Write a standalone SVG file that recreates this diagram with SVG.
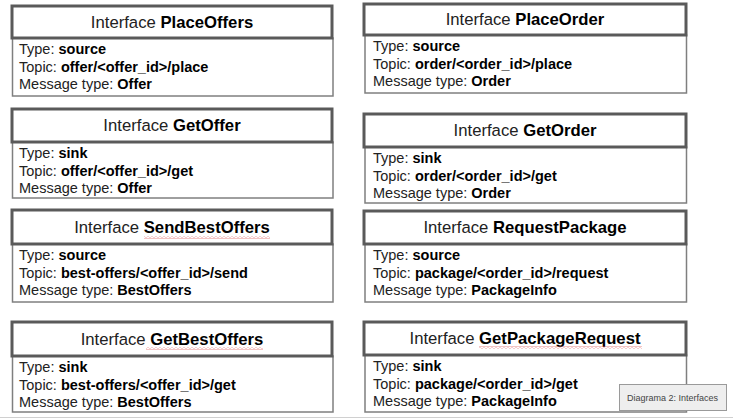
<svg xmlns="http://www.w3.org/2000/svg" width="733" height="419" viewBox="0 0 733 419">
<defs>
<style>
.hd{fill:#fff;stroke:#5a5a5a;stroke-width:3}
.bd{fill:#fff;stroke:#7f7f7f;stroke-width:1.5}
.ht{font-family:"Liberation Sans",Arial,sans-serif;font-size:16.7px;fill:#222;text-anchor:middle}
.bt{font-family:"Liberation Sans",Arial,sans-serif;font-size:14.5px;fill:#222}
.b{font-weight:bold;fill:#000}
.wv{fill:url(#wavy)}
.cap{font-family:"Liberation Sans",Arial,sans-serif;font-size:9px;fill:#444}
</style>
<pattern id="wavy" patternUnits="userSpaceOnUse" width="4" height="3">
<path d="M0,2.4 L2,0.6 L4,2.4" fill="none" stroke="#e06666" stroke-width="0.7"/>
</pattern>
</defs>
<rect width="733" height="419" fill="#fff"/>
<line x1="0" y1="417.5" x2="733" y2="417.5" stroke="#d0d0d0" stroke-width="1"/>

<g id="PlaceOffers">
<rect class="bd" x="12.5" y="38" width="320.5" height="58"/>
<rect class="hd" x="12" y="6" width="320" height="32"/>
<text class="ht" x="172" y="28">Interface <tspan class="b">PlaceOffers</tspan></text>
<text class="bt" x="19" y="54">Type: <tspan class="b">source</tspan></text>
<text class="bt" x="19" y="71.5">Topic: <tspan class="b">offer/&lt;offer_id&gt;/place</tspan></text>
<text class="bt" x="19" y="89">Message type: <tspan class="b">Offer</tspan></text>
</g>

<g id="GetOffer">
<rect class="bd" x="12.5" y="142" width="320.5" height="56"/>
<rect class="hd" x="12" y="109" width="320" height="33"/>
<text class="ht" x="172" y="131">Interface <tspan class="b">GetOffer</tspan></text>
<text class="bt" x="19" y="158">Type: <tspan class="b">sink</tspan></text>
<text class="bt" x="19" y="175.5">Topic: <tspan class="b">offer/&lt;offer_id&gt;/get</tspan></text>
<text class="bt" x="19" y="193">Message type: <tspan class="b">Offer</tspan></text>
</g>

<g id="SendBestOffers">
<rect class="bd" x="12.5" y="244" width="320.5" height="58"/>
<rect class="hd" x="12" y="210" width="320" height="34"/>
<text class="ht" x="172" y="233">Interface <tspan class="b">SendBestOffers</tspan></text>
<rect class="wv" x="144" y="236" width="126" height="3"/>
<text class="bt" x="19" y="260">Type: <tspan class="b">source</tspan></text>
<text class="bt" x="19" y="277.5">Topic: <tspan class="b">best-offers/&lt;offer_id&gt;/send</tspan></text>
<text class="bt" x="19" y="295">Message type: <tspan class="b">BestOffers</tspan></text>
</g>

<g id="GetBestOffers">
<rect class="bd" x="12.5" y="356" width="320.5" height="56"/>
<rect class="hd" x="12" y="322" width="320" height="34"/>
<text class="ht" x="172" y="345">Interface <tspan class="b">GetBestOffers</tspan></text>
<rect class="wv" x="146" y="347" width="117" height="3"/>
<text class="bt" x="19" y="372">Type: <tspan class="b">sink</tspan></text>
<text class="bt" x="19" y="389.5">Topic: <tspan class="b">best-offers/&lt;offer_id&gt;/get</tspan></text>
<text class="bt" x="19" y="407">Message type: <tspan class="b">BestOffers</tspan></text>
</g>

<g id="PlaceOrder">
<rect class="bd" x="365" y="35" width="321.5" height="58"/>
<rect class="hd" x="364" y="4" width="322" height="31"/>
<text class="ht" x="525" y="25">Interface <tspan class="b">PlaceOrder</tspan></text>
<text class="bt" x="373" y="51">Type: <tspan class="b">source</tspan></text>
<text class="bt" x="373" y="68.5">Topic: <tspan class="b">order/&lt;order_id&gt;/place</tspan></text>
<text class="bt" x="373" y="86">Message type: <tspan class="b">Order</tspan></text>
</g>

<g id="GetOrder">
<rect class="bd" x="365" y="147" width="321.5" height="56"/>
<rect class="hd" x="364" y="114" width="322" height="33"/>
<text class="ht" x="525" y="136">Interface <tspan class="b">GetOrder</tspan></text>
<text class="bt" x="373" y="163">Type: <tspan class="b">sink</tspan></text>
<text class="bt" x="373" y="180.5">Topic: <tspan class="b">order/&lt;order_id&gt;/get</tspan></text>
<text class="bt" x="373" y="198">Message type: <tspan class="b">Order</tspan></text>
</g>

<g id="RequestPackage">
<rect class="bd" x="365" y="244" width="321.5" height="58"/>
<rect class="hd" x="364" y="211" width="322" height="33"/>
<text class="ht" x="525" y="233">Interface <tspan class="b">RequestPackage</tspan></text>
<text class="bt" x="373" y="260">Type: <tspan class="b">source</tspan></text>
<text class="bt" x="373" y="277.5">Topic: <tspan class="b">package/&lt;order_id&gt;/request</tspan></text>
<text class="bt" x="373" y="295">Message type: <tspan class="b">PackageInfo</tspan></text>
</g>

<g id="GetPackageRequest">
<rect class="bd" x="365" y="355" width="321.5" height="57"/>
<rect class="hd" x="364" y="322" width="322" height="33"/>
<text class="ht" x="525" y="344">Interface <tspan class="b">GetPackageRequest</tspan></text>
<rect class="wv" x="479" y="346" width="163" height="3"/>
<text class="bt" x="373" y="371">Type: <tspan class="b">sink</tspan></text>
<text class="bt" x="373" y="388.5">Topic: <tspan class="b">package/&lt;order_id&gt;/get</tspan></text>
<text class="bt" x="373" y="406">Message type: <tspan class="b">PackageInfo</tspan></text>
</g>

<g id="connectors"></g>

<g id="caption">
<rect x="619.5" y="384.5" width="107" height="26" fill="#eeeeee" stroke="#9a9a9a" stroke-width="1"/>
<text class="cap" x="627" y="401">Diagrama 2: Interfaces</text>
</g>
</svg>
